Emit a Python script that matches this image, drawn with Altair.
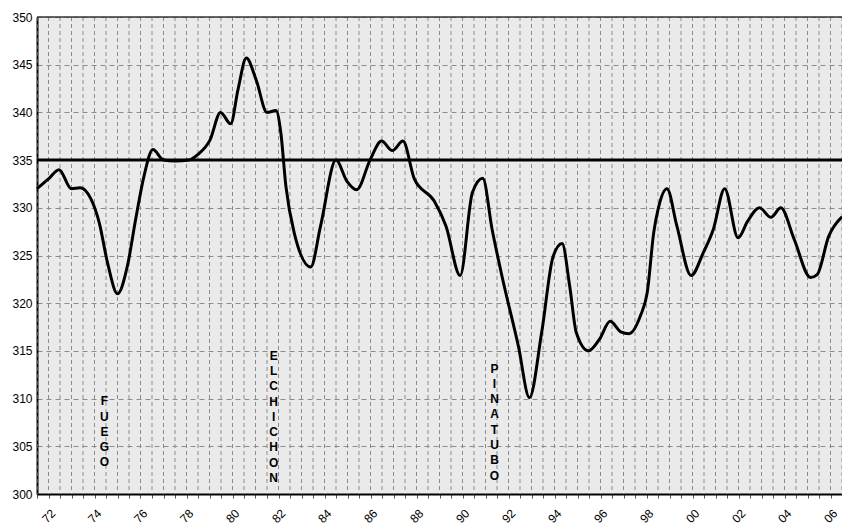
import altair as alt
import pandas as pd
import numpy as np

years = [1971.0, 1971.49, 1971.96, 1972.49, 1972.88, 1973.35, 1973.71, 1974.07, 1974.5, 1974.93,
         1975.29, 1975.65, 1976.04, 1976.5, 1977.0, 1977.6, 1978.0, 1978.52, 1978.98, 1979.42,
         1979.74, 1980.1, 1980.53, 1981.0, 1981.39, 1981.6, 1981.82, 1982.18, 1982.9, 1983.33,
         1984.0, 1984.47, 1984.9, 1985.48, 1985.98, 1986.45, 1986.91, 1987.41, 1988.27, 1988.78,
         1989.4, 1989.93, 1990.38, 1990.79, 1991.22, 1991.93, 1992.41, 1992.94, 1993.44, 1993.83,
         1994.16, 1994.45, 1994.98, 1995.45, 1995.92, 1996.38, 1996.74, 1997.24, 1997.53, 1997.82,
         1998.0, 1998.39, 1998.82, 1999.44, 1999.97, 2000.4, 2000.9, 2001.48, 2001.9, 2002.41,
         2002.91, 2003.34, 2003.92, 2004.63, 2004.92, 2005.42, 2006.0]
values = [332.0, 333.0, 334.0, 332.0, 332.1, 330.9, 328.4, 324.2, 321.0, 323.9,
          328.8, 333.3, 336.1, 335.0, 334.9, 335.0, 335.6, 337.1, 340.0, 338.8,
          342.4, 345.7, 343.4, 340.0, 340.2, 337.9, 332.3, 327.4, 323.8, 328.1,
          335.0, 332.8, 331.9, 335.0, 337.0, 336.0, 337.0, 333.0, 330.7, 328.1,
          322.9, 331.6, 333.1, 327.7, 322.8, 315.5, 310.1, 316.9, 324.9, 326.25,
          321.8, 316.9, 315.0, 316.2, 318.1, 317.0, 316.8, 318.7, 321.1, 327.5,
          329.8, 332.0, 328.1, 322.9, 325.3, 327.7, 332.0, 326.85, 328.6, 330.0,
          329.0, 330.0, 326.7, 322.7, 323.0, 327.0, 329.05]

label_text = ["F\nU\nE\nG\nO", "E\nL\nC\nH\nI\nC\nH\nO\nN", "P\nI\nN\nA\nT\nU\nB\nO"]
label_x = [1973.93, 1981.29, 1990.89]
label_y = [310.25, 315.03, 313.67]
ref_level = [335]
frame_top = [350]
y_ticks = [300, 305, 310, 315, 320, 325, 330, 335, 340, 345, 350]
x_ticks = [float(v) for v in np.arange(1971, 2006.01, 0.5)]

df = pd.DataFrame({"year": years, "value": values})
ann = pd.DataFrame({"x": label_x, "y": label_y, "t": label_text})
ref = pd.DataFrame({"v": ref_level})
top = pd.DataFrame({"v": frame_top})
vgrid = pd.DataFrame({"g": x_ticks})

FONT = "Arial"
xscale = alt.Scale(domain=[1971, 2006], nice=False, zero=False)
yscale = alt.Scale(domain=[300, 350], nice=False, zero=False)

xaxis = alt.Axis(
    values=x_ticks,
    labelExpr="(datum.value % 2 === 0) ? slice(toString(datum.value), 2) : ''",
    labelAngle=-45, labelAlign="right", labelBaseline="middle", labelOffset=-7,
    labelFontSize=12, labelColor="#000", labelFont=FONT,
    labelOverlap=False, labelFlush=False, labelPadding=13,
    tickSize=4, tickColor="#555", tickWidth=1,
    domainColor="#000", domainWidth=2,
    grid=False, title=None,
)
yaxis = alt.Axis(
    values=y_ticks, labelFontSize=12, labelColor="#000", labelFont=FONT,
    labelPadding=5, ticks=False, domainColor="#000", domainWidth=2,
    grid=True, gridColor="#8c8c8c", gridDash=[5, 4], gridWidth=1, title=None,
)

X = lambda f: alt.X(f, scale=xscale, axis=xaxis)
Y = lambda f: alt.Y(f, scale=yscale, axis=yaxis)

grid = alt.Chart(vgrid).mark_rule(color="#8c8c8c", strokeWidth=1, strokeDash=[4, 3]).encode(
    x=X("g:Q"),
)

line = alt.Chart(df).mark_line(interpolate="monotone", color="black", strokeWidth=3).encode(
    x=X("year:Q"),
    y=Y("value:Q"),
)

rule = alt.Chart(ref).mark_rule(color="black", strokeWidth=3).encode(
    y=Y("v:Q")
)

top_rule = alt.Chart(top).mark_rule(color="#333", strokeWidth=1.5).encode(
    y=Y("v:Q")
)

text = alt.Chart(ann).mark_text(
    lineBreak="\n", lineHeight=15.3, align="center", baseline="top",
    fontSize=12, fontWeight="bold", font=FONT, color="black",
).encode(
    x=X("x:Q"),
    y=Y("y:Q"),
    text="t:N",
)

chart = alt.layer(grid, rule, top_rule, line, text).properties(
    width=805, height=477,
    padding={"left": 29, "top": 9, "right": 0, "bottom": 32},
    autosize=alt.AutoSizeParams(type="none"),
).configure_view(fill="#EAEAEA", stroke=None)

chart.save("out.html", embed_options={"renderer": "svg", "actions": False})
